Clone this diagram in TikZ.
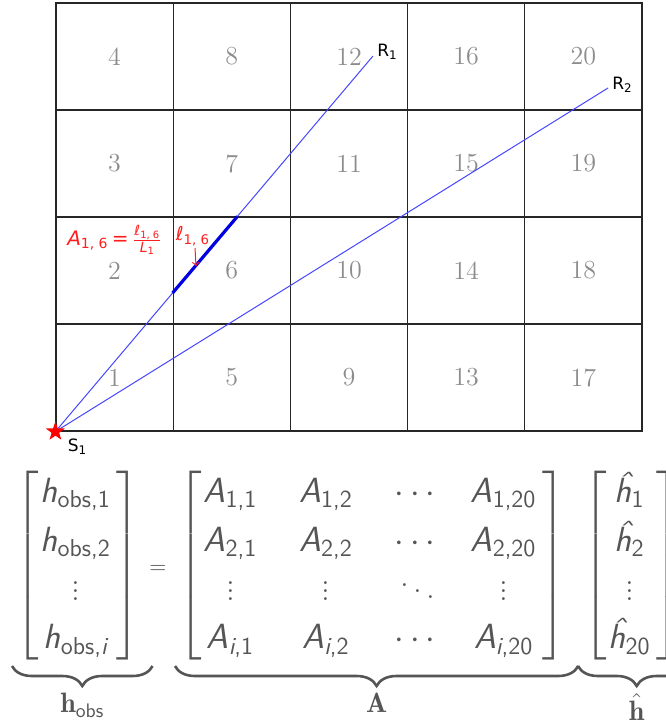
\documentclass[tikz,border=0pt]{standalone}
\usepackage{amsmath,amssymb}
\usepackage{fontspec}
\newfontfamily\djvsans{DejaVu Sans}
\usetikzlibrary{shapes.geometric,positioning,calc,decorations.pathreplacing}
\definecolor{cellnum}{RGB}{140,140,140}
\definecolor{raycol}{RGB}{70,70,255}
\definecolor{segcol}{RGB}{0,0,225}
\definecolor{eqgray}{RGB}{85,85,85}
\definecolor{tagred}{RGB}{255,30,30}

\newcommand{\sfv}[1]{\text{\sffamily\itshape #1}}
\newcommand{\sfn}[1]{\text{\sffamily #1}}

\begin{document}
\begin{tikzpicture}[
    x=0.5pt, y=-0.5pt,
    cell/.style={draw=black!85, line width=0.6pt, minimum width=58.6pt, minimum height=53.5pt, inner sep=0pt, text=cellnum, font=\fontsize{13}{15}\selectfont},
    ray/.style={draw=raycol, line width=0.5pt},
    seg/.style={draw=segcol, line width=1.6pt},
    tag/.style={font=\djvsans\fontsize{8.5}{10}\selectfont, inner sep=1pt},
    redtag/.style={tag, text=tagred, font=\djvsans\fontsize{10}{12}\selectfont},
    eqpart/.style={inner sep=0pt, text=eqgray, font=\fontsize{17.5}{20}\selectfont\renewcommand{\arraystretch}{1.22}},
    brace/.style={draw=eqgray, line width=1.3pt, decorate, decoration={brace, mirror, amplitude=10pt}},
    bracelab/.style={text=eqgray, inner sep=0pt, font=\fontsize{14}{16}\selectfont}
]
\useasboundingbox (0,0) rectangle (665,726);

% grid of cells, numbered column by column from the bottom
\foreach \c in {0,...,4}
  \foreach \r in {0,...,3} {
    \pgfmathtruncatemacro\n{4*\c+\r+1}
    \node[cell] (c\n) at ({56+117.2*(\c+0.5)}, {431-107*(\r+0.5)}) {\n};
  }

% source, receivers and rays
\coordinate (S1) at (c1.south west);
\coordinate (R1) at (373,56);
\coordinate (R2) at (608,88);
\draw[ray] (S1) -- (R1);
\draw[ray] (S1) -- (R2);
\draw[seg] (intersection of S1--R1 and c6.south west--c6.north west)
        -- (intersection of S1--R1 and c6.north west--c6.north east);
\node[star, star points=5, star point ratio=2.5, fill=red, inner sep=0pt, minimum size=10pt] (src) at (S1) {};
\node[tag, below right=2.5pt and 5pt of S1] (S1lab) {S$_{\text{1}}$};
\node[tag, right=1pt of R1, yshift=2pt] (R1lab) {R$_{\text{1}}$};
\node[tag, right=1pt of R2, yshift=1.5pt] (R2lab) {R$_{\text{2}}$};

% red annotations
\node[redtag] (Alab) at (115,240) {\textit{A}$_{\text{1, 6}}$\,=\,$\frac{\text{\textit{ℓ}}_{\text{1, 6}}}{\text{\textit{L}}_{\text{1}}}$};
\node[redtag, font=\djvsans\fontsize{9.5}{11}\selectfont] (elllab) at (193,236) {\textit{ℓ}$_{\text{1, 6}}$};
\coordinate (ellpt) at (196,266);
\draw[tagred, line width=0.5pt, ->] ([xshift=1pt]elllab.south) -- (ellpt);

% matrix equation
\node[eqpart, anchor=west] (hobs) at (15,566) {$\left[\begin{array}{@{\hspace{1pt}}c@{\hspace{3pt}}}
    \sfv{h}_{\sfn{obs,1}}\\ \sfv{h}_{\sfn{obs,2}}\\ \vdots\\ \sfv{h}_{\sfn{obs,}\sfv{i}}
  \end{array}\right]$};
\node[eqpart, font=\fontsize{11}{13}\selectfont] (eqsign) at (158,569) {$=$};
\node[eqpart, anchor=west] (Amat) at (178,566) {\setlength{\arraycolsep}{10.5pt}$\left[\begin{array}{@{\hspace{1pt}}ccc@{\hspace{15pt}}c@{\hspace{3pt}}}
    \sfv{A}_{\sfn{1,1}} & \sfv{A}_{\sfn{1,2}} & \cdots & \sfv{A}_{\sfn{1,20}}\\
    \sfv{A}_{\sfn{2,1}} & \sfv{A}_{\sfn{2,2}} & \cdots & \sfv{A}_{\sfn{2,20}}\\
    \vdots & \vdots & \ddots & \vdots\\
    \sfv{A}_{\sfv{i}\sfn{,1}} & \sfv{A}_{\sfv{i}\sfn{,2}} & \cdots & \sfv{A}_{\sfv{i}\sfn{,20}}
  \end{array}\right]$};
\node[eqpart, anchor=west] (hhat) at (583,566) {$\left[\begin{array}{@{\hspace{1pt}}c@{\hspace{3pt}}}
    \sfv{\^h}_{\sfn{1}}\\ \sfv{\^h}_{\sfn{2}}\\ \vdots\\ \sfv{\^h}_{\sfn{20}}
  \end{array}\right]$};

% braces with labels
\draw[brace] ([xshift=-1.5pt,yshift=-1pt]hobs.south west) -- ([xshift=6pt,yshift=-1pt]hobs.south east)
  node[bracelab, midway, below=13pt] (hobslab) {$\mathbf{h}_{\textsf{obs}}$};
\draw[brace] ([xshift=-1.5pt,yshift=-1pt]Amat.south west) -- ([xshift=6pt,yshift=-1pt]Amat.south east)
  node[bracelab, midway, below=13pt] (Alab2) {$\mathbf{A}$};
\draw[brace] ([xshift=-2.5pt,yshift=-1pt]hhat.south west) -- ([xshift=7.5pt,yshift=-1pt]hhat.south east)
  node[bracelab, midway, below=13pt] (hhatlab) {$\hat{\mathbf{h}}$};
\end{tikzpicture}
\end{document}
